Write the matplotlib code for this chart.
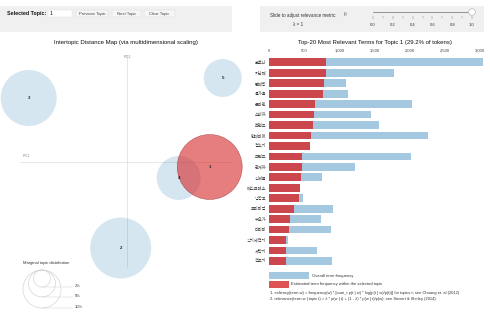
import matplotlib
matplotlib.use("Agg")
import matplotlib.pyplot as plt
from matplotlib.patches import Circle, Rectangle
import numpy as np

plt.rcParams['font.family'] = ['Liberation Sans', 'Noto Sans CJK KR', 'DejaVu Sans']

# ---------------- data ----------------
topic_ids = [1, 2, 3, 4, 5]
topic_pc1 = [0.83, -0.06, -0.98, 0.52, 0.96]
topic_pc2 = [-0.05, -0.86, 0.64, -0.16, 0.84]
topic_pct = [29.2, 25.7, 21.7, 13.4, 10.0]
selected_topic = 1

terms = ["코로나", "지난해", "판매량", "올가을", "온라인", "소비자", "트렌드", "인테리어",
         "청소기", "브랜드", "관계자", "신제품", "에스프레소", "냉장고", "프리미엄",
         "수요가", "다리미", "식기세척기", "세탁기", "건조기"]
overall_freq = [3036, 1774, 1100, 1124, 2030, 1446, 1560, 2266, 590, 2025,
                1228, 754, 440, 488, 910, 744, 882, 265, 687, 892]
topic_freq = [811, 811, 782, 768, 659, 636, 621, 593, 583, 474,
              469, 460, 436, 422, 351, 303, 280, 246, 242, 242]
x_ticks = [0, 500, 1000, 1500, 2000, 2500, 3000]
x_tick_labels = ["0", "500", "1,000", "1,500", "2,000", "2,500", "3,000"]
legend_pcts = [2, 5, 10]
lambda_ticks = [0.0, 0.2, 0.4, 0.6, 0.8, 1.0]

W, H = 490, 322
fig = plt.figure(figsize=(W / 100, H / 100), dpi=100)
fig.patch.set_facecolor("white")

def fx(x):
    return x / W

def fy(y):
    return 1 - y / H

BLUE = "#1f77b4"
RED = "#d62728"
txt_gray = "#333333"

# ---------------- top control panels ----------------
bg = fig.add_axes([0, 0, 1, 1], zorder=0)
bg.set_xlim(0, W)
bg.set_ylim(H, 0)
bg.axis("off")
bg.add_patch(Rectangle((0, 6), 232, 26, facecolor="#f0f0f0", edgecolor="none"))
bg.add_patch(Rectangle((260, 6), 224, 26, facecolor="#f0f0f0", edgecolor="none"))
bg.text(7, 13.5, "Selected Topic:", fontsize=3.8, color="#111111", va="center", ha="left",
        fontweight="bold")
bg.add_patch(Rectangle((48, 10), 24, 7, facecolor="white", edgecolor="#dddddd", lw=0.3))
bg.text(50, 13.5, "1", fontsize=3.8, va="center", ha="left", color="#111111")
for (bx0, bx1, lab) in [(76, 108, "Previous Topic"), (112, 141, "Next Topic"), (144, 175, "Clear Topic")]:
    bg.add_patch(Rectangle((bx0, 10), bx1 - bx0, 7, facecolor="#f6f6f6", edgecolor="#d8d8d8", lw=0.3))
    bg.text((bx0 + bx1) / 2, 13.5, lab, fontsize=3.0, va="center", ha="center", color="#444444")

bg.text(270, 15, "Slide to adjust relevance metric:", fontsize=3.3, va="center", ha="left", color=txt_gray)
bg.text(343.5, 13.5, "(2)", fontsize=2.2, va="center", ha="left", color=txt_gray)
bg.text(293, 24, "λ = 1", fontsize=3.3, va="center", ha="left", color=txt_gray)
# slider
sx0, sx1 = 373, 472
bg.plot([sx0, sx1], [12, 12], color="#999999", lw=0.8, solid_capstyle="round")
bg.add_patch(Circle((sx1, 12), 3.3, facecolor="white", edgecolor="#aaaaaa", lw=0.4, zorder=5))
for k in range(11):
    v = k / 10
    xx = sx0 + (sx1 - sx0) * v
    bg.plot([xx, xx], [16, 19 if k % 2 == 0 else 18], color="#777777", lw=0.3)
for v in lambda_ticks:
    xx = sx0 + (sx1 - sx0) * v
    bg.text(xx, 24.5, f"{v:.1f}", fontsize=3.0, ha="center", va="center", color=txt_gray)

# titles
bg.text(126, 42, "Intertopic Distance Map (via multidimensional scaling)", fontsize=4.3,
        ha="center", va="center", color="#111111")
bg.text(375, 42, "Top-20 Most Relevant Terms for Topic 1 (29.2% of tokens)", fontsize=4.3,
        ha="center", va="center", color="#111111")

# ---------------- intertopic map ----------------
ax = fig.add_axes([0, 0, 245 / W, 1], zorder=1)
ax.set_xlim(-1.267, 1.183)
ax.set_ylim(-1.60, 1.62)
ax.axis("off")
ax.patch.set_alpha(0)
ax.plot([-1.067, 1.053], [0, 0], color="#dddddd", lw=0.5, zorder=0)
ax.plot([0, 0], [1.07, -1.05], color="#dddddd", lw=0.5, zorder=0)
ax.text(-1.045, 0.04, "PC1", fontsize=2.8, color="#888888", ha="left", va="bottom")
ax.text(0.003, 1.05, "PC2", fontsize=2.8, color="#888888", ha="center", va="center")

scale = 6.014 / 100  # radius per sqrt(pct)
order = [i for i in range(len(topic_ids)) if topic_ids[i] != selected_topic] + \
        [i for i in range(len(topic_ids)) if topic_ids[i] == selected_topic]
for i in order:
    r = scale * np.sqrt(topic_pct[i])
    if topic_ids[i] == selected_topic:
        ax.add_patch(Circle((topic_pc1[i], topic_pc2[i]), r, facecolor=RED, alpha=0.6,
                            edgecolor="#8a1a1a", lw=0.4, zorder=3, clip_on=False))
    else:
        ax.add_patch(Circle((topic_pc1[i], topic_pc2[i]), r, facecolor=BLUE, alpha=0.18,
                            edgecolor="none", zorder=2, clip_on=False))
    ax.text(topic_pc1[i], topic_pc2[i], str(topic_ids[i]), fontsize=3.2, fontweight="bold",
            ha="center", va="center", color="#222222", zorder=4)

# marginal legend
ax.text(-1.037, -1.01, "Marginal topic distribution", fontsize=3.0, color=txt_gray,
        ha="left", va="center")
lcx, ltop = -0.847, -1.08
for p in legend_pcts:
    r = scale * np.sqrt(p)
    cy = ltop - r
    ax.add_patch(Circle((lcx, cy), r, facecolor="none", edgecolor="#cccccc", lw=0.4))
    ax.plot([lcx, -0.54], [cy - r, cy - r], color="#cccccc", lw=0.3)
    ax.text(-0.515, cy - r + 0.01, f"{p}%", fontsize=3.0, color=txt_gray, ha="left", va="center")

# ---------------- bar chart ----------------
top_px, bot_px = 57.1, 266.2
axb = fig.add_axes([fx(269), fy(bot_px), (482.5 - 269) / W, (bot_px - top_px) / H], zorder=1)
axb.patch.set_alpha(0)
y = np.arange(len(terms))
axb.barh(y, overall_freq, height=0.74, color=BLUE, alpha=0.4, lw=0)
axb.barh(y, topic_freq, height=0.74, color=RED, alpha=0.8, lw=0)
axb.set_xlim(0, 3036)
axb.set_ylim(len(terms) - 0.5, -0.5)
axb.xaxis.tick_top()
axb.set_xticks(x_ticks)
axb.set_xticklabels(x_tick_labels, fontsize=3.0, color="#444444")
axb.set_yticks(y)
axb.set_yticklabels(terms, fontsize=3.0, color="#333333",
                    fontfamily=['Noto Sans CJK KR', 'DejaVu Sans'])
axb.tick_params(axis="x", length=0, pad=3.2)
axb.tick_params(axis="y", length=0, pad=2.0)
for s in axb.spines.values():
    s.set_visible(False)

# legend for bars
bg.add_patch(Rectangle((269, 272), 40, 7, facecolor=BLUE, alpha=0.4, edgecolor="none"))
bg.add_patch(Rectangle((269, 281), 20, 6.5, facecolor=RED, alpha=0.8, edgecolor="none"))
bg.text(312, 275.7, "Overall term frequency", fontsize=3.0, color=txt_gray, ha="left", va="center")
bg.text(291, 284.3, "Estimated term frequency within the selected topic", fontsize=3.0,
        color=txt_gray, ha="left", va="center")
bg.text(270, 293, "1. saliency(term w) = frequency(w) * [sum_t p(t | w) * log(p(t | w)/p(t))] for topics t; see Chuang et. al (2012)",
        fontsize=2.9, color=txt_gray, ha="left", va="center")
bg.text(270, 299, "2. relevance(term w | topic t) = λ * p(w | t) + (1 - λ) * p(w | t)/p(w); see Sievert & Shirley (2014)",
        fontsize=2.9, color=txt_gray, ha="left", va="center")

fig.savefig("out.png", dpi=100)
